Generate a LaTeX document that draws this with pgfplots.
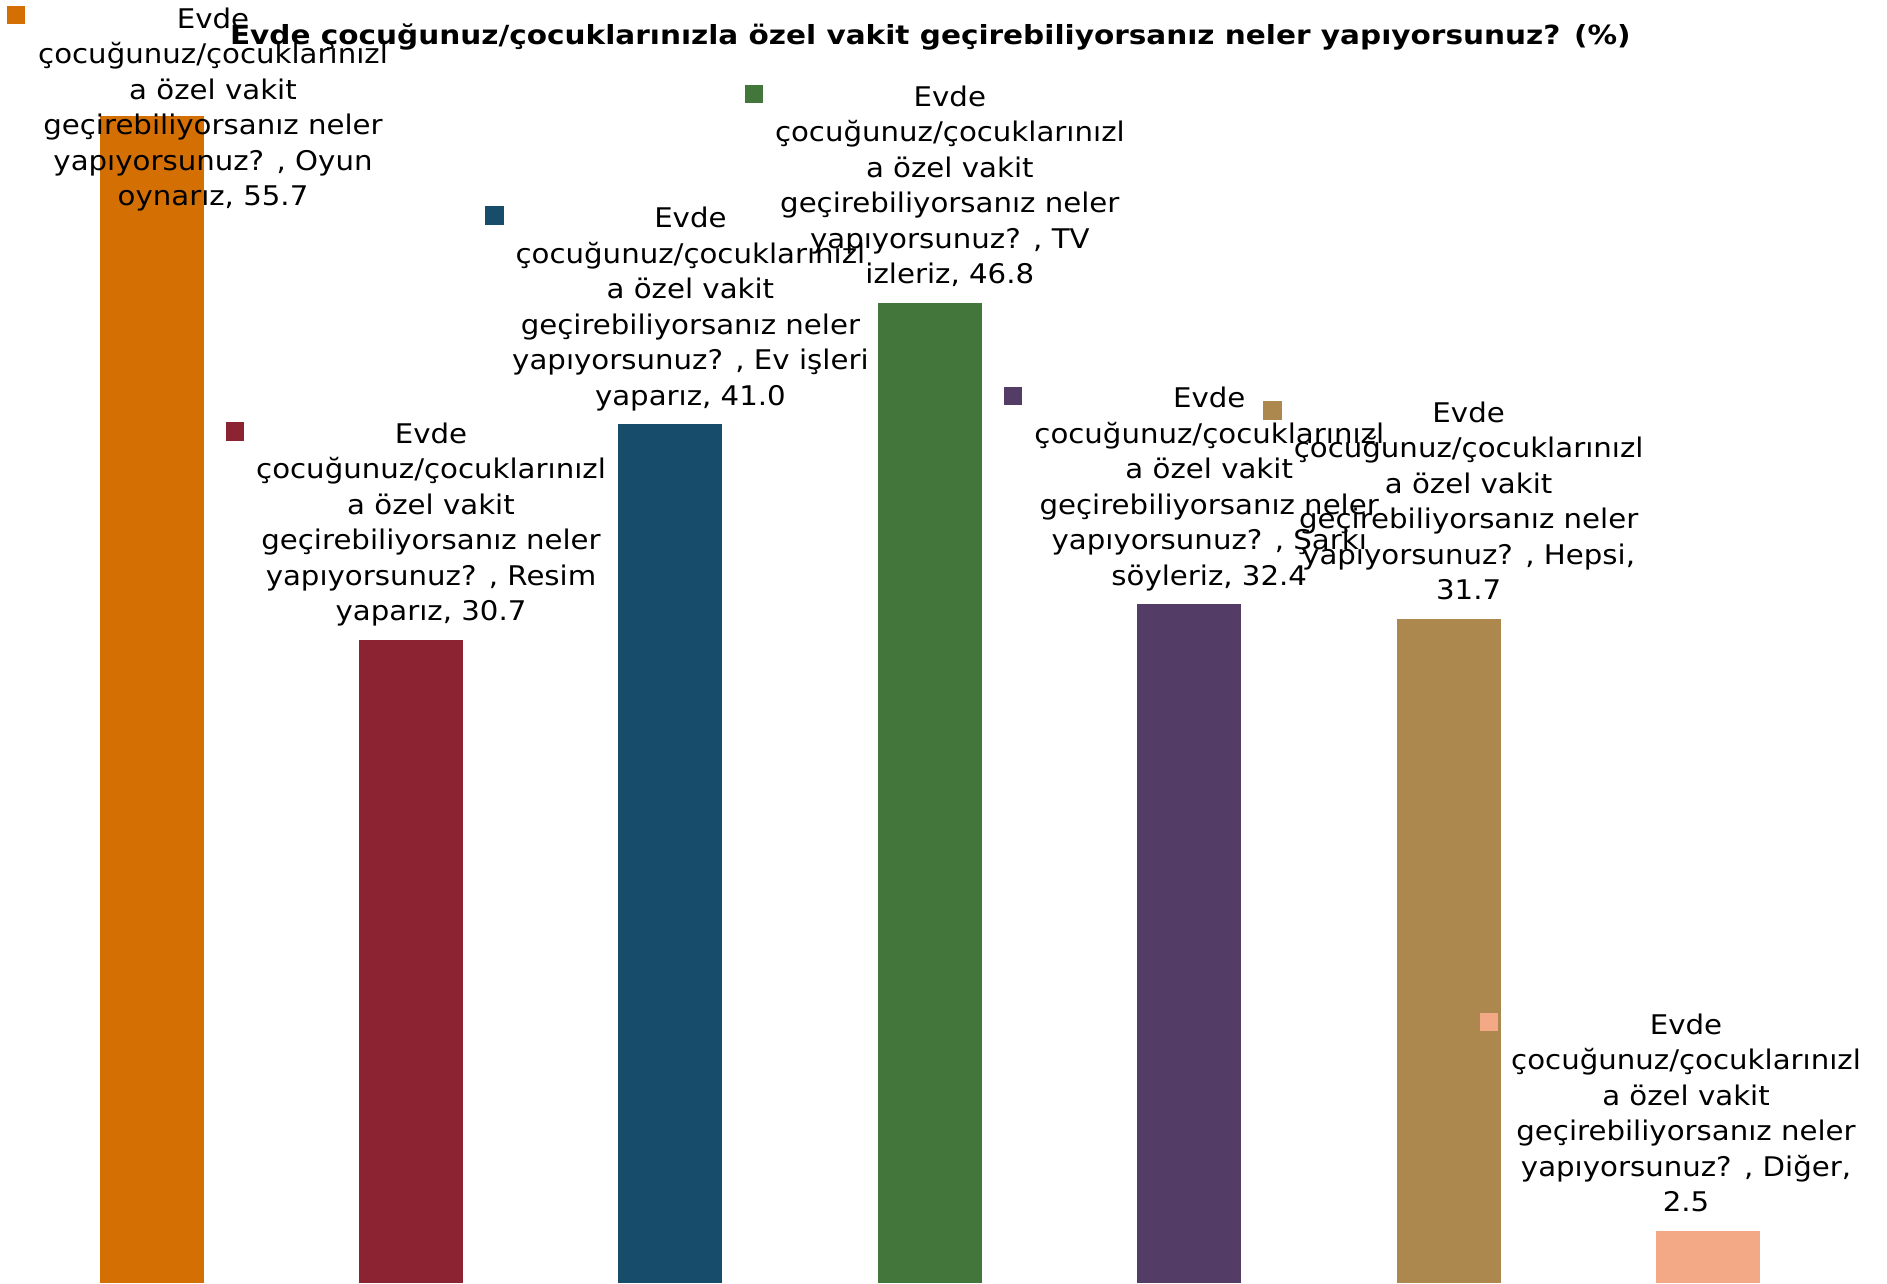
\documentclass[border=0pt]{standalone}
\usepackage{pgfplots}
\pgfplotsset{compat=1.18}
\usepackage{fontspec}
\setmainfont{DejaVu Sans}
\newfontfamily\lblfont[FakeStretch=1.08]{DejaVu Sans}
\newfontfamily\ttlfont[FakeStretch=1.12]{DejaVu Sans}
\definecolor{c1}{HTML}{D46F04}
\definecolor{c2}{HTML}{8B2332}
\definecolor{c3}{HTML}{174D6B}
\definecolor{c4}{HTML}{43763A}
\definecolor{c5}{HTML}{533D66}
\definecolor{c6}{HTML}{AC884F}
\definecolor{c7}{HTML}{F3A886}
\begin{document}
\begin{tikzpicture}
\begin{axis}[
  width=18.87cm, height=12.83cm, scale only axis,
  xmin=-0.5844, xmax=6.690, ymin=0, ymax=61.24,
  hide axis, clip=false,
  title={Evde çocuğunuz/çocuklarınızla özel vakit geçirebiliyorsanız neler yapıyorsunuz? (\%)},
  title style={at={(0.493,0.9485)}, anchor=base, inner sep=0pt,
    font=\ttlfont\bfseries\fontsize{7.5}{9}\selectfont},
  every node near coord/.append style={align=center, anchor=base, inner sep=0pt,
    text=black, font=\lblfont\fontsize{7.7}{10.1}\selectfont},
  bs/.style={ybar, bar width=10.4mm, bar shift=0pt, draw=none, fill=#1},
  mk/.style={only marks, mark=square*, mark size=0.85mm, color=#1, mark options={draw=none, fill=#1}},
]
\addplot[bs=c1, nodes near coords={Evde\\çocuğunuz/çocuklarınızl\\a özel vakit\\geçirebiliyorsanız neler\\yapıyorsunuz? , Oyun\\oynarız, 55.7},
  every node near coord/.append style={xshift=6.14mm, yshift=-8.97mm}] coordinates {(0,55.7)};
\addplot[bs=c2, nodes near coords={Evde\\çocuğunuz/çocuklarınızl\\a özel vakit\\geçirebiliyorsanız neler\\yapıyorsunuz? , Resim\\yaparız, 30.7},
  every node near coord/.append style={xshift=2mm, yshift=1.9mm}] coordinates {(1,30.7)};
\addplot[bs=c3, nodes near coords={Evde\\çocuğunuz/çocuklarınızl\\a özel vakit\\geçirebiliyorsanız neler\\yapıyorsunuz? , Ev işleri\\yaparız, 41.0},
  every node near coord/.append style={xshift=2mm, yshift=1.9mm}] coordinates {(2,41.0)};
\addplot[bs=c4, nodes near coords={Evde\\çocuğunuz/çocuklarınızl\\a özel vakit\\geçirebiliyorsanız neler\\yapıyorsunuz? , TV\\izleriz, 46.8},
  every node near coord/.append style={xshift=2mm, yshift=1.9mm}] coordinates {(3,46.8)};
\addplot[bs=c5, nodes near coords={Evde\\çocuğunuz/çocuklarınızl\\a özel vakit\\geçirebiliyorsanız neler\\yapıyorsunuz? , Şarkı\\söyleriz, 32.4},
  every node near coord/.append style={xshift=2mm, yshift=1.9mm}] coordinates {(4,32.4)};
\addplot[bs=c6, nodes near coords={Evde\\çocuğunuz/çocuklarınızl\\a özel vakit\\geçirebiliyorsanız neler\\yapıyorsunuz? , Hepsi,\\31.7},
  every node near coord/.append style={xshift=2mm, yshift=1.9mm}] coordinates {(5,31.7)};
\addplot[bs=c7, nodes near coords={Evde\\çocuğunuz/çocuklarınızl\\a özel vakit\\geçirebiliyorsanız neler\\yapıyorsunuz? , Diğer,\\2.5},
  every node near coord/.append style={xshift=-2.2mm, yshift=1.9mm}] coordinates {(6,2.5)};
\addplot[mk=c1] coordinates {(-0.5227,60.51)};
\addplot[mk=c2] coordinates {(0.3215,40.65)};
\addplot[mk=c3] coordinates {(1.3215,50.95)};
\addplot[mk=c4] coordinates {(2.3215,56.75)};
\addplot[mk=c5] coordinates {(3.3215,42.35)};
\addplot[mk=c6] coordinates {(4.3215,41.65)};
\addplot[mk=c7] coordinates {(5.156,12.45)};
\end{axis}
\pgfresetboundingbox
\useasboundingbox (current axis.south west) rectangle (current axis.north east);
\end{tikzpicture}
\end{document}
